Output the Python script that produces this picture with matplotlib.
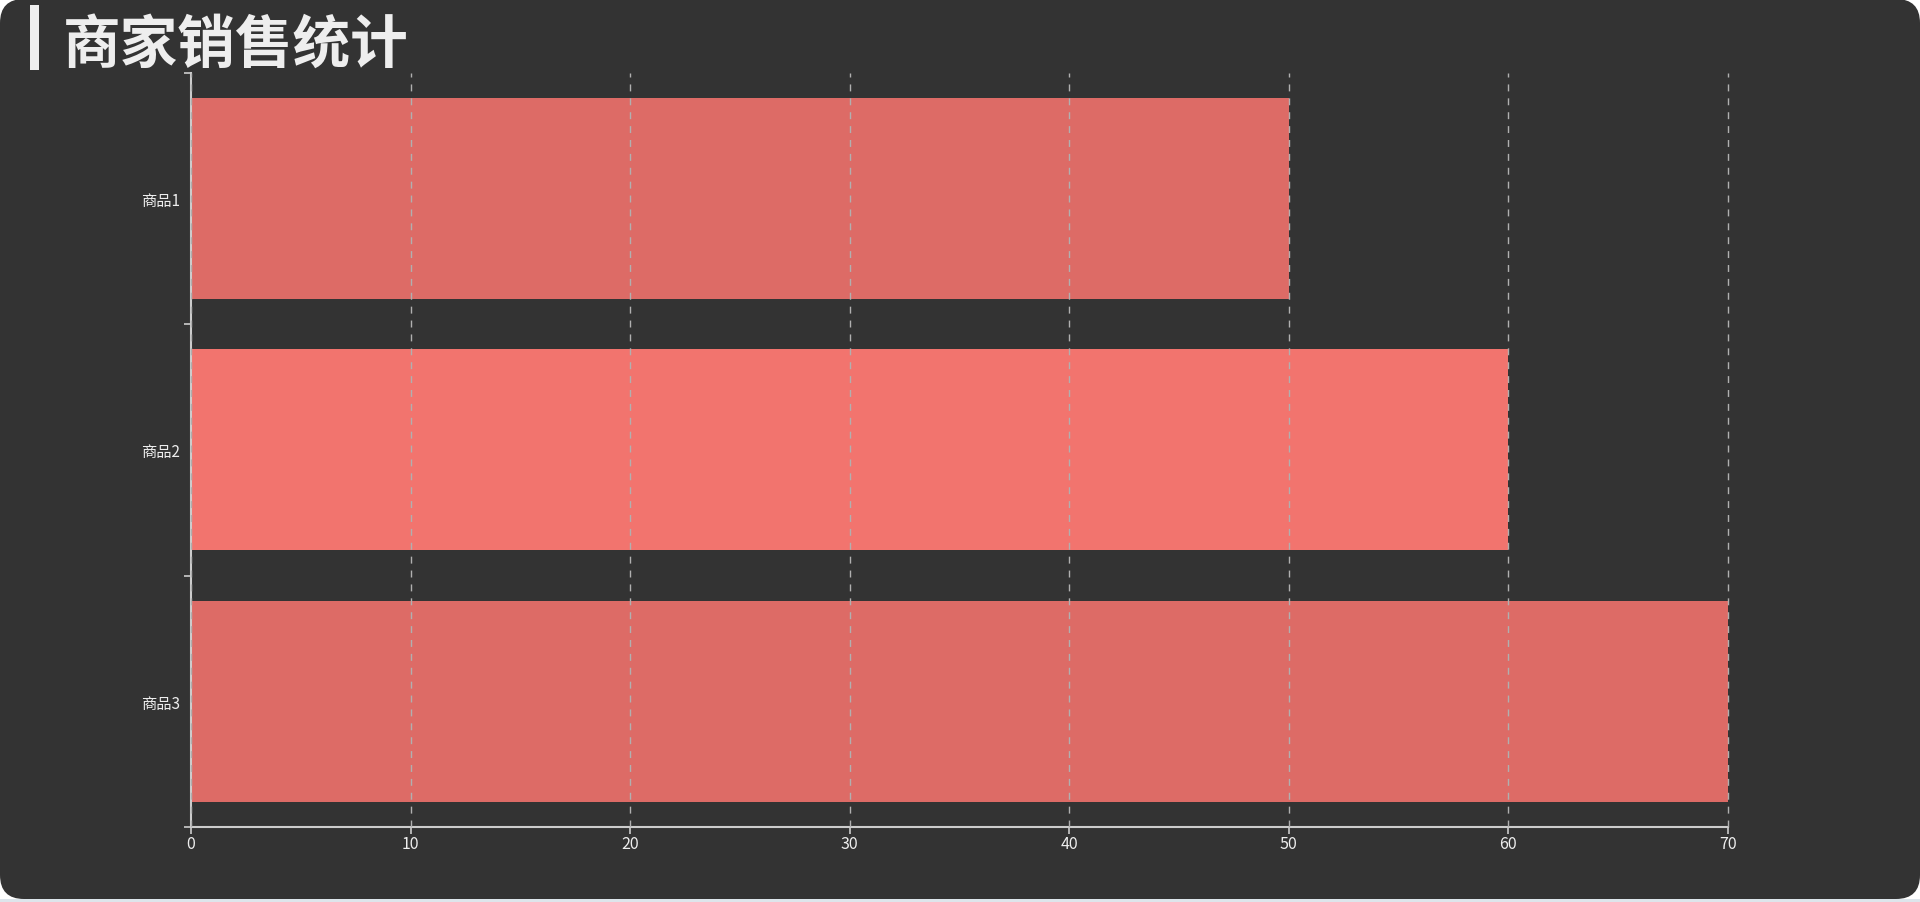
import matplotlib.pyplot as plt
from matplotlib.patches import FancyBboxPatch, Rectangle

plt.rcParams['font.family'] = ['Noto Sans CJK SC', 'DejaVu Sans']

# Data ----
categories = ['商品1', '商品2', '商品3']
sales = [50, 60, 70]
bar_colors = ['#dd6b66', '#f2746e', '#dd6b66']
x_ticks = [0, 10, 20, 30, 40, 50, 60, 70]

fig = plt.figure(figsize=(19.2, 9.03), dpi=100, facecolor='white')

# Rounded dark panel + thin light strip at the bottom
fig.patches.append(Rectangle((0, 0), 19.2, 0.03, transform=fig.dpi_scale_trans,
                             facecolor='#dde5eb', edgecolor='none', zorder=-3))
fig.patches.append(FancyBboxPatch((0, 0.03), 19.2, 9.0,
                                  boxstyle='round,pad=0,rounding_size=0.24',
                                  transform=fig.dpi_scale_trans,
                                  facecolor='#333333', edgecolor='none', zorder=-2))

# Title with bar marker
fig.patches.append(Rectangle((30 / 1920, 1 - 71 / 903), 9 / 1920, 65 / 903,
                             transform=fig.transFigure, facecolor='#eeeeee',
                             edgecolor='none'))
fig.text(63 / 1920, 1 - 46 / 903, '商家销售统计', fontsize=41.5, fontweight='heavy',
         color='#eeeeee', va='center', ha='left')

ax = fig.add_axes([191 / 1920, 1 - 828 / 903, (1728 - 191) / 1920, (828 - 73.5) / 903])
ax.set_facecolor('none')

ypos = list(range(len(categories)))
ax.barh(ypos, sales, height=0.8, color=bar_colors, zorder=1)

ax.set_xlim(0, 70)
ax.set_ylim(len(categories) - 0.5, -0.5)
ax.set_xticks(x_ticks)
ax.set_xticklabels([str(t) for t in x_ticks])

# category boundaries as ticks, labels in the middle
ax.set_yticks([i - 0.5 for i in range(len(categories) + 1)])
ax.set_yticklabels([])
ax.set_yticks(ypos, minor=True)
ax.set_yticklabels(categories, minor=True)
ax.tick_params(axis='y', which='minor', length=0, pad=8, labelsize=11, labelcolor='#eeeeee')
ax.tick_params(axis='y', which='major', length=5, width=1.2, color='#cccccc')
ax.tick_params(axis='x', length=5, width=1.2, color='#cccccc', labelsize=11.5,
               labelcolor='#eeeeee', pad=1)

ax.grid(axis='x', linestyle=(0, (5, 5)), color='#b0b0b0', linewidth=1, zorder=2)
for gl in ax.get_xgridlines():
    gl.set_clip_on(False)
ax.set_axisbelow(False)

for side in ['top', 'right']:
    ax.spines[side].set_visible(False)
for side in ['left', 'bottom']:
    ax.spines[side].set_color('#cccccc')
    ax.spines[side].set_linewidth(1.5)

fig.savefig('out.png', dpi=100, facecolor=fig.get_facecolor())
